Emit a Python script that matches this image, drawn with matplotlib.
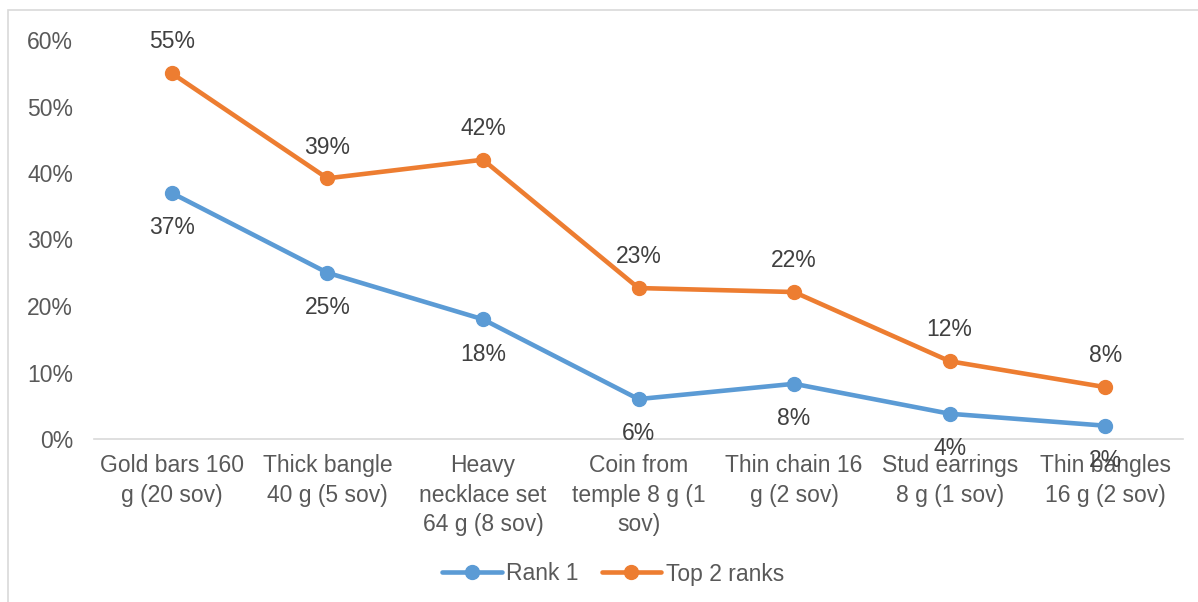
import matplotlib
matplotlib.use("Agg")
import matplotlib.pyplot as plt
from matplotlib.patches import Rectangle
from matplotlib.ticker import FuncFormatter

categories = ["Gold bars 160\ng (20 sov)", "Thick bangle\n40 g (5 sov)",
              "Heavy\nnecklace set\n64 g (8 sov)", "Coin from\ntemple 8 g (1\nsov)",
              "Thin chain 16\ng (2 sov)", "Stud earrings\n8 g (1 sov)",
              "Thin bangles\n16 g (2 sov)"]
rank1 = [0.37, 0.25, 0.18, 0.06, 0.083, 0.038, 0.02]
rank1_labels = ["37%", "25%", "18%", "6%", "8%", "4%", "2%"]
top2 = [0.55, 0.392, 0.42, 0.227, 0.221, 0.117, 0.078]
top2_labels = ["55%", "39%", "42%", "23%", "22%", "12%", "8%"]
yticks = [0, 0.1, 0.2, 0.3, 0.4, 0.5, 0.6]

plt.rcParams['font.family'] = ['Liberation Sans', 'DejaVu Sans']

W, H = 1198, 602
fig = plt.figure(figsize=(W/100, H/100), dpi=100)
ax = fig.add_axes([94/W, 1-439/H, (1183-94)/W, (439-40)/H])

blue = "#5B9BD5"
orange = "#ED7D31"
FS = 16.5
x = list(range(len(categories)))
ax.plot(x, rank1, color=blue, lw=3.3, marker='o', ms=10, label="Rank 1",
        solid_capstyle='round', zorder=3)
ax.plot(x, top2, color=orange, lw=3.3, marker='o', ms=10, label="Top 2 ranks",
        solid_capstyle='round', zorder=3)

for xi, v, t in zip(x, rank1, rank1_labels):
    ax.annotate(t, (xi, v), xytext=(0, -25), textcoords='offset points',
                ha='center', va='center', fontsize=FS, color='#404040')
for xi, v, t in zip(x, top2, top2_labels):
    ax.annotate(t, (xi, v), xytext=(0, 22.5), textcoords='offset points',
                ha='center', va='center', fontsize=FS, color='#404040')

ax.set_xlim(-0.5, len(categories)-0.5)
ax.set_ylim(0, 0.6)
ax.set_yticks(yticks)
ax.yaxis.set_major_formatter(FuncFormatter(lambda v, p: f"{round(v*100)}%"))
ax.set_xticks(x)
ax.set_xticklabels(categories, linespacing=1.35)
ax.tick_params(axis='both', length=0, labelsize=FS, labelcolor='#595959')
ax.tick_params(axis='y', pad=15)
ax.tick_params(axis='x', pad=11)
for s in ['top', 'right', 'left']:
    ax.spines[s].set_visible(False)
ax.spines['bottom'].set_color('#D9D9D9')
ax.spines['bottom'].set_linewidth(1.2)
ax.spines['bottom'].set_zorder(1)

leg = fig.legend(loc='center', bbox_to_anchor=(613/W, 1-574/H), ncol=2,
                 frameon=False, fontsize=FS, handlelength=2.6, columnspacing=1.0,
                 handletextpad=0.2)
for t in leg.get_texts():
    t.set_color('#595959')

fig.patches.append(Rectangle((8/W, -0.01), 1.2, 1-10/H+0.01, transform=fig.transFigure,
                             fill=False, edgecolor='#D9D9D9', lw=1.2))

fig.savefig("out.png", dpi=100)
